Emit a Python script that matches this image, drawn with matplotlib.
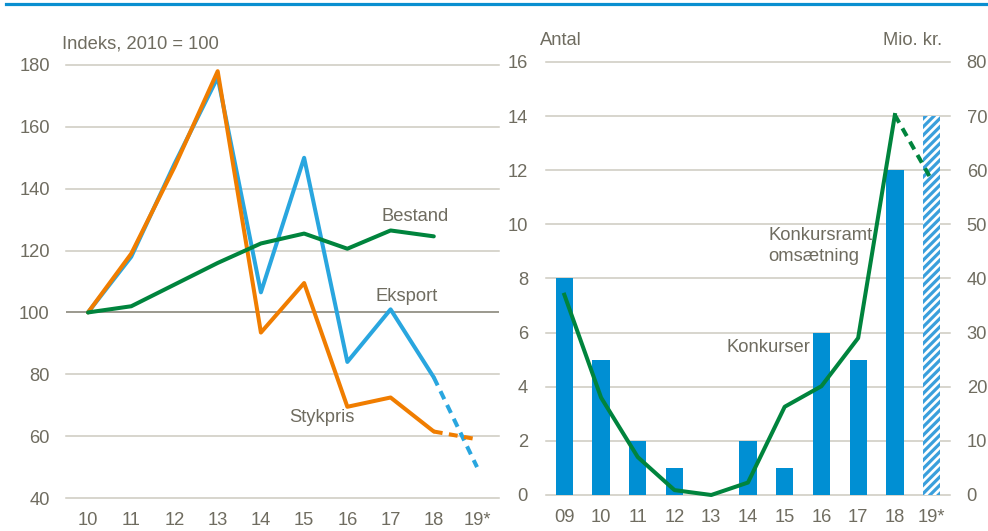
import numpy as np
import matplotlib
matplotlib.use('Agg')
import matplotlib.pyplot as plt
from matplotlib.lines import Line2D

plt.rcParams['font.family'] = ['Liberation Sans', 'DejaVu Sans']
plt.rcParams['hatch.linewidth'] = 2.3

# left panel: index 2010 = 100
years_l = ['10', '11', '12', '13', '14', '15', '16', '17', '18', '19*']
eksport = [100, 118, 148, 176, 106.5, 150, 84, 101, 79, 50]
stykpris = [100, 119, 147, 178, 93.5, 109.5, 69.5, 72.5, 61.5, 59]
bestand = [100, 102, 109, 116, 122.3, 125.5, 120.6, 126.5, 124.6]

# right panel: bankruptcies (count) and turnover (mio. kr.)
years_r = ['09', '10', '11', '12', '13', '14', '15', '16', '17', '18', '19*']
konkurser = [8, 5, 2, 1, 0, 2, 1, 6, 5, 12, 14]
omsaetning = [37, 18, 7, 0.9, 0, 2.3, 16.3, 20.1, 29, 70.2, 58.2]

txt = '#6f6c60'
grid_c = '#cdcac0'
blue_l = '#29a6df'
orange = '#f07d00'
green = '#00843d'
blue_bar = '#008fd3'
fs = 13.2

fig = plt.figure(figsize=(9.88, 5.31), dpi=100)
fig.add_artist(Line2D([0.006, 1], [1 - 4 / 531, 1 - 4 / 531], color='#0a8fd0', lw=2.3))

# ---- left panel
ax = fig.add_axes([0.0672, 0.0621, 0.4375, 0.8155])
x = np.arange(len(years_l))
for v in [40, 60, 80, 120, 140, 160, 180]:
    ax.axhline(v, color=grid_c, lw=1.1, zorder=0, clip_on=False)
ax.axhline(100, color='#8a877b', lw=1.2, zorder=0)
ax.plot(x[:9], eksport[:9], color=blue_l, lw=2.9, clip_on=False, solid_capstyle='round')
ax.plot(x[8:], eksport[8:], color=blue_l, lw=2.9, ls=(0, (2.2, 1.6)), clip_on=False)
ax.plot(x[:9], stykpris[:9], color=orange, lw=2.9, clip_on=False, solid_capstyle='round')
ax.plot(x[8:], stykpris[8:], color=orange, lw=2.9, ls=(0, (2.2, 1.6)), clip_on=False)
ax.plot(x[:9], bestand, color=green, lw=2.9, clip_on=False, solid_capstyle='round')
ax.set_xlim(-0.5, 9.5)
ax.set_ylim(40, 180)
ax.set_yticks([40, 60, 80, 100, 120, 140, 160, 180])
ax.set_xticks(x)
ax.set_xticklabels(years_l)
ax.tick_params(length=0, labelsize=fs, labelcolor=txt)
ax.tick_params(axis='y', pad=12)
ax.tick_params(axis='x', pad=10)
for s in ax.spines.values():
    s.set_visible(False)
ax.patch.set_visible(False)
ax.text(-0.01, 1.03, 'Indeks, 2010 = 100', transform=ax.transAxes, color=txt, fontsize=fs, va='bottom')
ax.text(7.57, 130.9, 'Bestand', color=txt, fontsize=fs, va='center', ha='center')
ax.text(7.36, 105.3, 'Eksport', color=txt, fontsize=fs, va='center', ha='center')
ax.text(5.42, 65.9, 'Stykpris', color=txt, fontsize=fs, va='center', ha='center')

# ---- right panel
ax2 = fig.add_axes([0.5526, 0.0678, 0.4089, 0.8155])
xr = np.arange(len(years_r))
for v in range(0, 17, 2):
    ax2.axhline(v, color=grid_c, lw=1.1, zorder=0, clip_on=False)
ax2.bar(xr[:-1], konkurser[:-1], width=0.47, color=blue_bar, zorder=2)
ax2.bar(xr[-1:], konkurser[-1:], width=0.47, color='white', edgecolor='#3a9fdc',
        hatch='////', linewidth=0, zorder=2)
ax2.set_xlim(-0.5, 10.5)
ax2.set_ylim(0, 16)
ax2.set_yticks(range(0, 17, 2))
ax2.set_xticks(xr)
ax2.set_xticklabels(years_r)
ax2.tick_params(length=0, labelsize=fs, labelcolor=txt)
ax2.tick_params(axis='y', pad=13)
ax2.tick_params(axis='x', pad=10)
for s in ax2.spines.values():
    s.set_visible(False)
ax2.patch.set_visible(False)

ax3 = ax2.twinx()
ax3.plot(xr[:10], omsaetning[:10], color=green, lw=2.9, zorder=3, clip_on=False)
ax3.plot(xr[9:], omsaetning[9:], color=green, lw=2.9, ls=(0, (2.2, 1.6)), zorder=3, clip_on=False)
ax3.set_ylim(0, 80)
ax3.set_yticks(range(0, 81, 10))
ax3.tick_params(length=0, labelsize=fs, labelcolor=txt, pad=12)
for s in ax3.spines.values():
    s.set_visible(False)
ax3.text(-0.015, 1.03, 'Antal', transform=ax2.transAxes, color=txt, fontsize=fs, va='bottom')
ax3.text(0.98, 1.03, 'Mio. kr.', transform=ax2.transAxes, color=txt, fontsize=fs, va='bottom', ha='right')
ax3.text(5.55, 49.6, 'Konkursramt\nomsætning', color=txt, fontsize=fs, va='top', ha='left', linespacing=1.35)
ax3.text(6.7, 27.3, 'Konkurser', color=txt, fontsize=fs, va='center', ha='right')

fig.savefig('out.png', dpi=100)
